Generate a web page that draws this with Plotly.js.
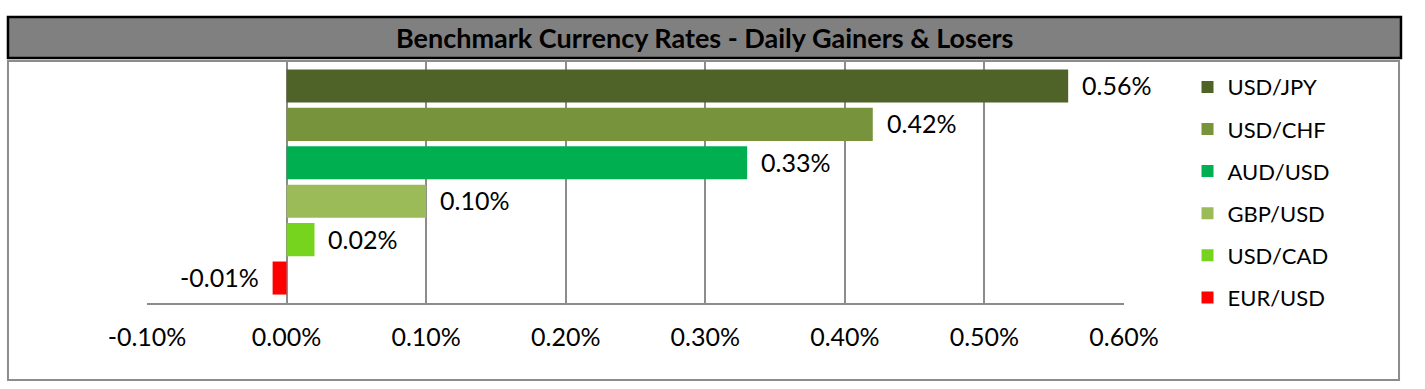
<!DOCTYPE html>
<html>
<head>
<meta charset="utf-8">
<script src="https://cdn.plot.ly/plotly-3.0.1.min.js"></script>
<style>html,body{margin:0;padding:0;background:#fff;}#chart{width:1425px;height:389px;}</style>
</head>
<body>
<div id="chart"></div>
<script>
var pairs = ["USD/JPY", "USD/CHF", "AUD/USD", "GBP/USD", "USD/CAD", "EUR/USD"];
var changes = [0.56, 0.42, 0.33, 0.10, 0.02, -0.01];
var colors = ["#4F6228", "#77933C", "#00B050", "#9BBB59", "#77D41E", "#FF0000"];
var tickVals = [-0.1, 0, 0.1, 0.2, 0.3, 0.4, 0.5, 0.6];
var tickText = ["-0.10%", "0.00%", "0.10%", "0.20%", "0.30%", "0.40%", "0.50%", "0.60%"];
var chartTitle = "Benchmark Currency Rates - Daily Gainers & Losers";

var FONT = "Lato, 'Open Sans', sans-serif";

var traces = pairs.map(function (p, i) {
  return {
    type: "bar",
    orientation: "h",
    name: p,
    legendgroup: p,
    x: [changes[i]],
    y: [p],
    width: 0.86,
    marker: { color: colors[i], line: { width: 0 } },
    hoverinfo: "x+name"
  };
});

var annotations = pairs.map(function (p, i) {
  var v = changes[i];
  return {
    x: v, y: p, xref: "x", yref: "y",
    text: v.toFixed(2) + "%",
    showarrow: false,
    xanchor: v >= 0 ? "left" : "right",
    xshift: v >= 0 ? 12 : -12,
    yshift: 1,
    font: { family: FONT, size: 25, color: "#000" }
  };
});

annotations.push({
  x: 0.5702, y: 1.097, xref: "paper", yref: "paper",
  text: "<b>" + chartTitle + "</b>", showarrow: false,
  xanchor: "center", yanchor: "middle",
  font: { family: FONT, size: 27, color: "#000" }
});

var layout = {
  width: 1425, height: 389,
  margin: { l: 147, r: 301, t: 61, b: 86 },
  paper_bgcolor: "#fff", plot_bgcolor: "rgba(0,0,0,0)",
  barmode: "overlay",
  showlegend: true,
  legend: {
    x: 1.065, xanchor: "left", y: 0.979, yanchor: "top",
    font: { family: FONT, size: 22, color: "#000" },
    traceorder: "grouped", tracegroupgap: 10.5,
    maxheight: 389,
    bgcolor: "rgba(0,0,0,0)"
  },
  xaxis: {
    range: [-0.1, 0.6], tickmode: "array", tickvals: tickVals, ticktext: tickText,
    showgrid: true, gridcolor: "#8C8C8C", gridwidth: 2,
    zeroline: false,
    showline: true, linecolor: "#8C8C8C", linewidth: 2,
    ticks: "outside", ticklen: 11, tickcolor: "rgba(0,0,0,0)",
    tickfont: { family: FONT, size: 25, color: "#000" },
    fixedrange: true
  },
  yaxis: {
    type: "category", categoryorder: "array", categoryarray: pairs,
    range: [5.65, -0.65], autorange: false,
    showticklabels: false, showgrid: false, zeroline: false, showline: false,
    fixedrange: true
  },
  shapes: [
    { type: "rect", xref: "paper", yref: "paper", x0: -0.1423, x1: 1.2815, y0: -0.318, y1: 1.0,
      line: { color: "#8C8C8C", width: 2 }, fillcolor: "rgba(0,0,0,0)", layer: "below" },
    { type: "rect", xref: "paper", yref: "paper", x0: -0.1423, x1: 1.2835, y0: 1.0124, y1: 1.1818,
      line: { color: "#000", width: 2.5 }, fillcolor: "#808080", layer: "above" }
  ],
  annotations: annotations
};

Plotly.newPlot("chart", traces, layout, { displayModeBar: false, staticPlot: true });
</script>
</body>
</html>
